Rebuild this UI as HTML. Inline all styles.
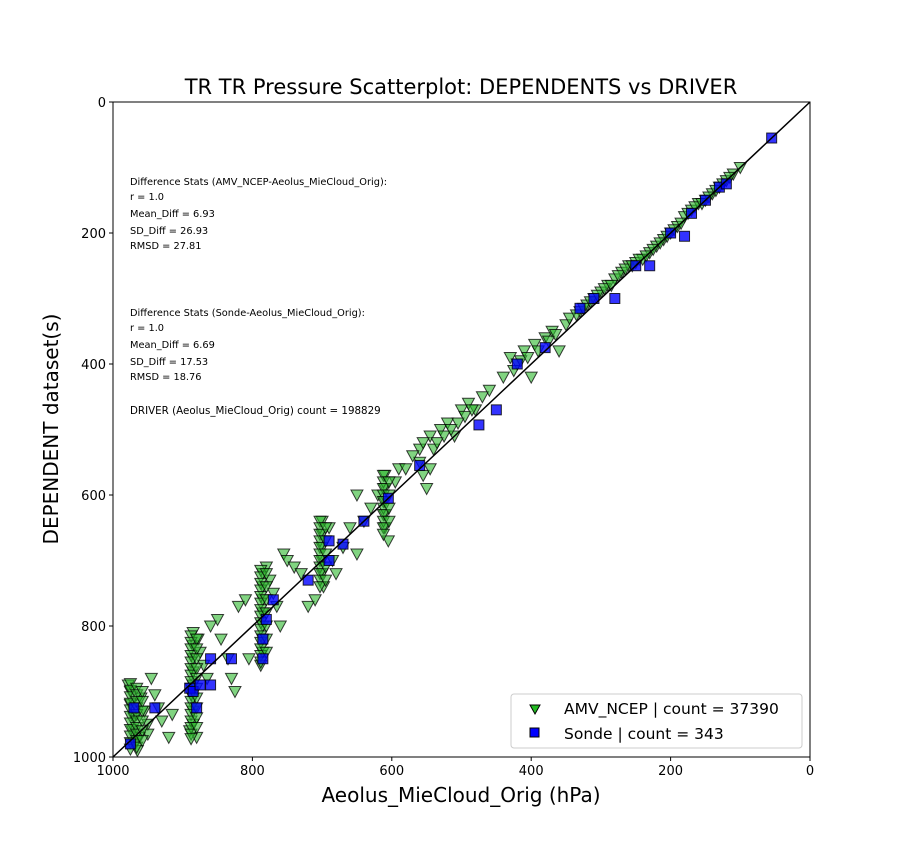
<!DOCTYPE html>
<html><head><meta charset="utf-8"><style>
html,body{margin:0;padding:0;background:#fff;}
svg{display:block;font-family:"DejaVu Sans","Liberation Sans",sans-serif;}
</style></head><body>
<svg id="chart" width="900" height="850"></svg>
<script>
const xTicks=[1000,800,600,400,200,0];
const yTicks=[0,200,400,600,800,1000];
const amvDriver=[975,975,970,972,968,965,960,955,950,978,962,945,940,935,930,920,915,950,
885,885,885,885,885,885,885,885,880,890,878,875,870,865,860,850,845,835,830,825,820,810,805,
785,785,785,785,785,785,785,788,780,775,770,765,760,755,750,740,730,
700,700,700,700,700,698,690,685,680,670,660,650,720,710,
610,610,610,610,610,605,620,630,640,650,595,590,
560,560,555,550,545,540,530,520,510,500,490,480,470,460,
430,420,410,400,395,380,370,360,350,
330,320,310,300,290,280,270,260,250,240,230,220,210,200,190,180,170,160,150,140,130,120,110,100,
975,975,975,975,975,975,975,975,975,975,975,
966,966,966,966,966,966,966,966,966,966,
958,958,958,958,958,958,
888,888,888,888,888,888,888,888,888,888,888,888,888,888,888,888,888,
880,880,880,880,880,880,880,880,880,880,
788,788,788,788,788,788,788,788,788,788,788,788,788,788,788,
780,780,780,780,780,780,780,
703,703,703,703,703,703,703,703,703,703,703,
695,695,695,695,695,
612,612,612,612,612,612,612,612,612,612,
604,604,604,604,
580,570,555,545,535,525,515,505,495,485,440,425,415,405,390,375,365,345,335,325,315,305,295,285,275,265,255,245,235,225,215,205,195,185,175,165,155,145,135,125,115];
const amvDependent=[900,920,940,960,980,990,910,930,950,890,970,880,905,925,945,970,935,965,
810,830,850,870,890,910,930,950,970,960,820,840,860,880,800,790,820,850,880,900,770,760,850,
720,740,760,780,800,820,840,860,710,730,750,770,800,690,700,710,720,
640,660,680,700,720,740,650,700,720,680,650,690,770,760,
570,590,610,630,650,670,600,620,640,600,580,560,
530,550,570,590,510,530,500,490,510,470,460,470,450,440,
390,400,380,420,370,360,350,380,340,
320,310,300,290,280,270,260,250,245,240,230,220,210,200,190,175,165,155,150,140,130,120,110,100,
888,898,908,918,928,938,948,958,968,978,988,
895,905,915,925,935,945,955,965,975,985,
900,915,930,945,960,975,
815,825,835,845,855,865,875,885,895,905,915,925,935,945,955,965,972,
820,835,850,865,880,895,910,925,940,955,
715,725,735,745,755,765,775,785,795,805,815,825,835,845,855,
720,740,760,780,800,820,840,
640,650,660,670,680,690,700,710,720,730,740,
650,670,690,710,730,
570,580,590,600,610,620,630,640,650,660,
580,600,620,640,
560,540,520,560,520,510,500,490,480,470,420,410,395,390,380,365,355,330,325,315,305,295,285,280,265,255,250,240,235,225,215,205,195,185,170,160,155,145,135,125,115];
const sondeDriver=[975,970,940,890,885,880,875,860,860,830,785,785,780,770,720,690,690,670,640,605,560,475,450,420,380,330,310,280,250,230,200,180,170,150,130,120,55];
const sondeDependent=[980,925,925,895,900,925,890,890,850,850,850,820,790,760,730,670,700,675,640,605,555,493,470,400,375,315,300,300,250,250,200,205,170,150,130,125,55];

const NS='http://www.w3.org/2000/svg';
const svg=document.getElementById('chart');
const L=113,R=810,T=102,B=757;
const xs=v=>L+(1000-v)*(R-L)/1000;
const ys=v=>T+v*(B-T)/1000;
function el(tag,attrs,parent){const e=document.createElementNS(NS,tag);for(const k in attrs)e.setAttribute(k,attrs[k]);(parent||svg).appendChild(e);return e;}
function txt(s,attrs,parent){const e=el('text',attrs,parent);e.textContent=s;return e;}

const t=txt('TR TR Pressure Scatterplot: DEPENDENTS vs DRIVER',{x:461,y:94,'text-anchor':'middle','font-size':21});



const pts=el('g',{});


for(let i=0;i<amvDriver.length;i++){
  const x=xs(amvDriver[i]),y=ys(amvDependent[i]);
  const p=el('polygon',{points:`${x-6},${y-5} ${x+6},${y-5} ${x},${y+6}`,fill:'#2db82d','fill-opacity':0.6,stroke:'#000','stroke-opacity':0.75,'stroke-width':1},pts);
  
  
}
const sq=el('g',{});


for(let i=0;i<sondeDriver.length;i++){
  const x=xs(sondeDriver[i]),y=ys(sondeDependent[i]);
  const r=el('rect',{x:x-5,y:y-5,width:10,height:10,fill:'#0000ff','fill-opacity':0.8,stroke:'#000','stroke-width':1,'stroke-opacity':0.8},sq);
  
  
}
const ln=el('line',{x1:xs(1000),y1:ys(1000),x2:xs(0),y2:ys(0),stroke:'#000','stroke-width':1.5});



const frame=el('rect',{x:L,y:T,width:R-L,height:B-T,fill:'none',stroke:'#000','stroke-width':1});



xTicks.forEach(v=>{
  el('line',{x1:xs(v),y1:B,x2:xs(v),y2:B+4,stroke:'#000'});
  const e=txt(String(v),{x:xs(v),y:B+18,'text-anchor':'middle','font-size':13});
  
  
});
yTicks.forEach(v=>{
  el('line',{x1:L-4,y1:ys(v),x2:L,y2:ys(v),stroke:'#000'});
  const e=txt(String(v),{x:L-7,y:ys(v)+5,'text-anchor':'end','font-size':13});
  
  
});
const xl=txt('Aeolus_MieCloud_Orig (hPa)',{x:461,y:802,'text-anchor':'middle','font-size':20});


const yl=txt('DEPENDENT dataset(s)',{x:0,y:0,'text-anchor':'middle','font-size':20,transform:'translate(58,429) rotate(-90)'});



const stats=[['Difference Stats (AMV_NCEP-Aeolus_MieCloud_Orig):',185],['r = 1.0',200],['Mean_Diff = 6.93',217],['SD_Diff = 26.93',234],['RMSD = 27.81',249],
['Difference Stats (Sonde-Aeolus_MieCloud_Orig):',316],['r = 1.0',331],['Mean_Diff = 6.69',348],['SD_Diff = 17.53',365],['RMSD = 18.76',380]];
stats.forEach(s=>{const e=txt(s[0],{x:130,y:s[1],'font-size':9.8});
  
  });
const dc=txt('DRIVER (Aeolus_MieCloud_Orig) count = 198829',{x:130,y:414,'font-size':10.3});



const lg=el('g',{});


el('rect',{x:511,y:694,width:291,height:54,rx:3,fill:'#fff','fill-opacity':0.85,stroke:'#ccc'},lg);
el('polygon',{points:'530,705 540,705 535,714',fill:'#22bb22',stroke:'#000'},lg);
el('rect',{x:530,y:728,width:9,height:9,fill:'#0000ff',stroke:'#000'},lg);
const l1=txt('AMV_NCEP | count = 37390',{x:564,y:714,'font-size':15.5},lg);


const l2=txt('Sonde | count = 343',{x:564,y:739,'font-size':15.5},lg);


</script>
</body></html>
